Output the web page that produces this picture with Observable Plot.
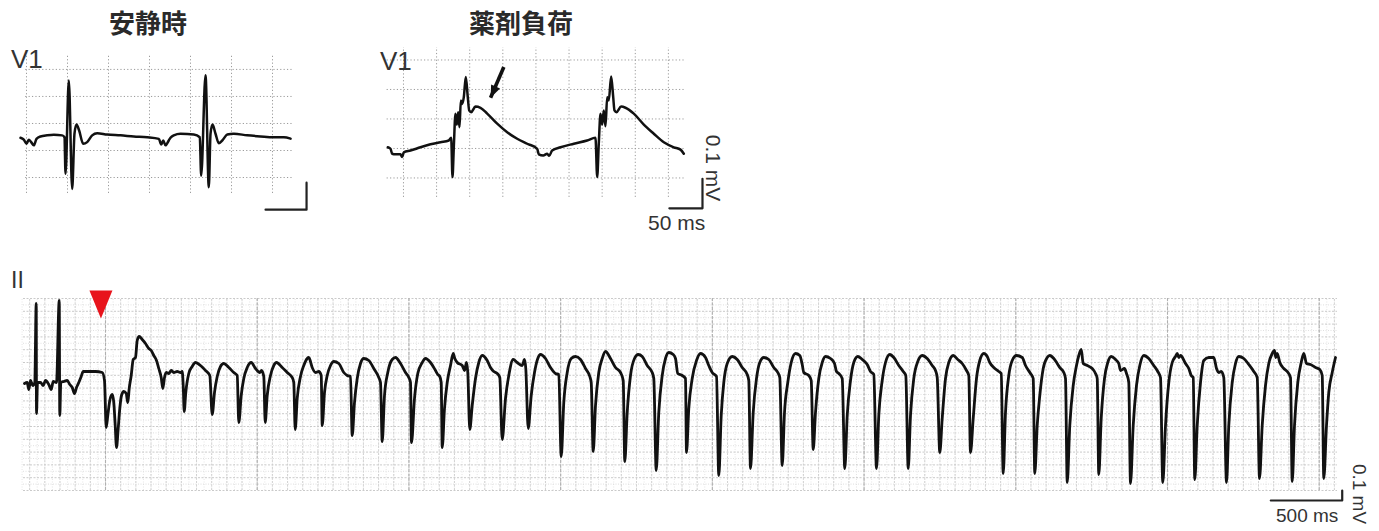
<!DOCTYPE html>
<html><head><meta charset="utf-8">
<script src="https://cdn.jsdelivr.net/npm/d3@7"></script>
<script src="https://cdn.jsdelivr.net/npm/@observablehq/plot@0.6"></script>
<style>
body{margin:0;background:#fff;}
#root{position:relative;width:1379px;height:531px;overflow:hidden;font-family:"Liberation Sans",Arial,sans-serif;color:#333;background:#fff;}
#root svg{position:absolute;overflow:visible;}
.lbl{position:absolute;line-height:1;white-space:nowrap;}
.title{font-family:"Noto Sans CJK JP","Noto Sans CJK SC",sans-serif;font-weight:700;font-size:26px;transform:translateX(-50%);color:#2a2a2a;}
.rot{transform:translate(-50%,-50%) rotate(90deg);}
</style></head><body><div id="root"></div>
<script>
// ---------- data ----------
const titles = ["安静時", "薬剤負荷"];
const leadTop = "V1";
const leadBottom = "II";

// Panel 1 (安静時, V1): [time ms, mV]
const restTrace = [[-7.3,0.047],[-3.3,0.040],[0,0.025],[2.8,0.040],[5.7,0.031],[8.9,0.019],[12.2,0.043],[17.1,0.052],[25.2,0.056],[33.3,0.058],[43.5,0.056],[46.3,0.049],[47.6,-0.086],[51.6,0.259],[55.7,-0.142],[58.5,0.062],[61,0.096],[64.2,0.074],[69.1,0.025],[74,0.031],[80.1,0.056],[86.2,0.064],[98.4,0.059],[114.6,0.056],[130.9,0.052],[147.2,0.049],[161.4,0.043],[164.3,0.022],[166.7,0.037],[169.5,0.019],[173.5,0.037],[175.6,0.047],[179.6,0.056],[187.8,0.062],[204,0.059],[211.3,0.049],[213,-0.093],[218.3,0.278],[222.3,-0.136],[224.4,0.062],[226.8,0.096],[230.5,0.062],[234.5,0.027],[238.7,0.037],[244.8,0.059],[252.8,0.062],[269.1,0.056],[285.4,0.052],[301.6,0.049],[313.8,0.049],[322,0.044]];

// Panel 2 (薬剤負荷, V1): [time ms, mV]
const drugTrace = [[-23.7,0.004],[-19.6,-0.001],[-17.1,-0.018],[-12.1,-0.020],[-4.5,-0.020],[-2,-0.029],[0.5,-0.013],[10.6,-0.007],[25.7,0.004],[40.8,0.014],[55.9,0.021],[68.4,0.027],[72,0.036],[74,-0.097],[76,0.004],[78.5,0.118],[80.5,0.081],[82.6,0.123],[84.6,0.072],[86.6,0.163],[88.6,0.151],[91.1,0.174],[94.1,0.242],[97.1,0.174],[99.2,0.129],[102.2,0.123],[108.7,0.142],[116.3,0.138],[126.4,0.118],[141.5,0.084],[156.6,0.055],[171.7,0.033],[186.8,0.016],[201.9,-0.001],[204.3,-0.020],[211,-0.024],[217,-0.018],[220,-0.025],[224.5,-0.007],[237.1,0.004],[257.2,0.016],[277.3,0.027],[289.9,0.036],[292.5,-0.097],[294.9,0.016],[297.5,0.118],[300,0.081],[302.5,0.129],[305,0.075],[307.6,0.174],[310,0.163],[313.6,0.244],[316.7,0.174],[318.6,0.129],[321.6,0.123],[328.7,0.142],[335.2,0.138],[347.8,0.118],[362.9,0.081],[378,0.050],[393.1,0.021],[408.2,0.004],[418.3,-0.004],[423.3,-0.018]];
const drugArrow = [{x1:151.5, y1:0.276, x2:131.5, y2:0.172}];

// Panel 3 (II, long strip): [time ms, mV]
const leadIITrace = [[28,-0.01],[47,0],[58,-0.07],[70,0.02],[86,-0.03],[100,0],[110,0.79],[112,-0.31],[119,0],[140,0],[159,-0.03],[175,0.02],[198,-0.02],[215,-0.07],[229,0.01],[252,0],[271,0.82],[275,-0.33],[282,0],[303,0.01],[327,0.02],[345,-0.02],[362,-0.05],[378,-0.11],[392,-0.05],[408,0],[425,0.06],[439,0.11],[478,0.11],[525,0.11],[572,0.10],[588,0.02],[600,-0.45],[611,-0.33],[625,-0.18],[642,-0.12],[653,-0.20],[663,-0.43],[672,-0.65],[684,-0.46],[695,-0.26],[707,-0.13],[723,-0.09],[740,-0.11],[751,-0.20],[761,-0.06],[775,0.07],[789,0.23],[805,0.25],[817,0.42],[831,0.46],[852,0.43],[875,0.39],[898,0.34],[915,0.32],[933,0.27],[952,0.22],[968,0.14],[985,0.05],[996,-0.06],[1008,0.05],[1020,0.10],[1038,0.09],[1055,0.12],[1073,0.10],[1097,0.11],[1120,0.10],[1132,0.11],[1139,-0.03],[1146,-0.29],[1157,-0.10],[1178,0.09],[1202,0.16],[1225,0.20],[1260,0.17],[1295,0.12],[1325,0.07],[1342,-0.32],[1358,-0.10],[1377,0.06],[1400,0.16],[1423,0.19],[1458,0.15],[1493,0.10],[1517,0.07],[1528,-0.40],[1545,-0.13],[1563,0.04],[1587,0.15],[1615,0.20],[1645,0.14],[1675,0.10],[1687,0.12],[1703,0.06],[1713,-0.40],[1727,-0.13],[1750,0.07],[1773,0.17],[1792,0.20],[1832,0.15],[1867,0.10],[1902,0.05],[1913,0],[1923,-0.47],[1937,-0.16],[1960,0.06],[1983,0.17],[2007,0.24],[2018,0.25],[2042,0.15],[2065,0.10],[2088,0.11],[2105,0.07],[2112,-0.43],[2128,-0.10],[2147,0.07],[2170,0.17],[2193,0.21],[2228,0.19],[2263,0.10],[2287,0.07],[2310,0.06],[2322,-0.53],[2338,-0.20],[2357,0.04],[2380,0.19],[2403,0.24],[2438,0.22],[2473,0.14],[2508,0.05],[2520,0],[2532,-0.59],[2548,-0.13],[2571,0.10],[2602,0.23],[2625,0.25],[2660,0.19],[2695,0.10],[2718,0.05],[2730,0],[2737,-0.60],[2758,-0.16],[2781,0.09],[2812,0.20],[2835,0.24],[2870,0.20],[2905,0.12],[2921,0.08],[2935,0.06],[2945,0],[2952,-0.65],[2968,-0.26],[2987,0],[3010,0.17],[3029,0.29],[3040,0.24],[3057,0.20],[3092,0.17],[3108,0.12],[3122,0.20],[3131,0.10],[3145,-0.47],[3162,-0.23],[3185,0.04],[3208,0.20],[3232,0.27],[3267,0.22],[3290,0.15],[3313,0.11],[3337,0.09],[3355,0.05],[3372,-0.57],[3395,-0.16],[3418,0.07],[3449,0.23],[3477,0.20],[3512,0.17],[3528,0.23],[3537,0.14],[3554,-0.46],[3575,-0.13],[3598,0.10],[3621,0.24],[3640,0.28],[3675,0.24],[3710,0.15],[3745,0.09],[3768,0.08],[3785,-0.74],[3803,-0.20],[3827,0.10],[3855,0.24],[3885,0.26],[3920,0.23],[3955,0.14],[3985,0.06],[3995,0],[4009,-0.69],[4025,-0.23],[4048,0.10],[4072,0.24],[4095,0.31],[4130,0.24],[4165,0.15],[4200,0.10],[4219,0.02],[4230,-0.79],[4247,-0.30],[4270,0.07],[4298,0.24],[4324,0.28],[4352,0.26],[4387,0.17],[4422,0.10],[4433,0.04],[4450,-0.88],[4468,-0.30],[4492,0.07],[4515,0.24],[4538,0.30],[4569,0.28],[4585,0.24],[4601,0.09],[4632,0.07],[4655,0.04],[4662,-0.70],[4678,-0.26],[4702,0.04],[4732,0.22],[4760,0.29],[4795,0.25],[4818,0.17],[4842,0.10],[4872,0.06],[4888,-0.93],[4905,-0.33],[4923,0],[4947,0.19],[4982,0.26],[5017,0.23],[5052,0.15],[5087,0.08],[5098,0.02],[5110,-0.86],[5129,-0.30],[5152,0.04],[5175,0.20],[5203,0.25],[5238,0.23],[5273,0.15],[5301,0.10],[5315,0.05],[5332,-0.83],[5348,-0.30],[5371,0],[5395,0.20],[5425,0.29],[5455,0.27],[5472,0.18],[5483,0.10],[5518,0.07],[5535,0.02],[5549,-0.67],[5565,-0.30],[5588,0.04],[5612,0.20],[5635,0.26],[5670,0.24],[5698,0.19],[5712,0.11],[5728,0.09],[5752,0.04],[5770,-0.86],[5787,-0.33],[5810,0.02],[5833,0.20],[5861,0.26],[5892,0.23],[5927,0.18],[5950,0.11],[5973,0.08],[5992,-0.86],[6008,-0.33],[6032,0.02],[6055,0.20],[6085,0.28],[6113,0.25],[6148,0.17],[6179,0.11],[6197,0.07],[6214,-0.86],[6230,-0.33],[6253,0.04],[6281,0.21],[6312,0.27],[6347,0.24],[6382,0.17],[6405,0.12],[6417,0.05],[6435,-0.70],[6452,-0.36],[6475,0.04],[6498,0.20],[6529,0.27],[6561,0.23],[6592,0.19],[6622,0.12],[6638,0.07],[6650,-0.70],[6669,-0.36],[6692,0.04],[6715,0.22],[6743,0.29],[6767,0.26],[6785,0.20],[6813,0.15],[6848,0.11],[6865,0.09],[6879,-0.91],[6895,-0.30],[6918,0.07],[6942,0.22],[6972,0.27],[7012,0.25],[7035,0.17],[7070,0.09],[7089,0.04],[7100,-0.91],[7117,-0.43],[7135,-0.13],[7159,0.14],[7187,0.25],[7205,0.27],[7233,0.24],[7257,0.19],[7275,0.15],[7303,0.10],[7315,0.04],[7327,-1.00],[7345,-0.43],[7369,-0.03],[7392,0.17],[7408,0.27],[7425,0.33],[7439,0.19],[7467,0.17],[7502,0.14],[7525,0.09],[7537,0.04],[7548,-0.92],[7565,-0.36],[7588,0.04],[7611,0.20],[7635,0.26],[7665,0.23],[7688,0.19],[7700,0.12],[7728,0.14],[7742,0.09],[7758,0],[7770,-1.01],[7789,-0.43],[7812,-0.03],[7835,0.17],[7863,0.27],[7898,0.24],[7933,0.17],[7961,0.11],[7980,0.05],[7996,-1.00],[8015,-0.43],[8038,0],[8062,0.20],[8085,0.26],[8097,0.29],[8108,0.25],[8120,0.27],[8155,0.19],[8178,0.14],[8195,0.07],[8209,0.05],[8220,-0.97],[8237,-0.43],[8260,0],[8283,0.22],[8318,0.25],[8353,0.25],[8372,0.14],[8388,0.10],[8405,0.11],[8423,0.05],[8442,-1.00],[8458,-0.43],[8482,0],[8505,0.19],[8528,0.26],[8563,0.24],[8598,0.18],[8633,0.11],[8657,0.05],[8673,-0.96],[8692,-0.43],[8715,-0.03],[8738,0.19],[8762,0.29],[8778,0.32],[8787,0.25],[8797,0.29],[8815,0.20],[8843,0.14],[8867,0.11],[8890,0.05],[8902,-0.99],[8918,-0.43],[8941,0],[8965,0.20],[8983,0.29],[9002,0.19],[9030,0.18],[9065,0.15],[9095,0.13],[9112,0.07],[9123,-0.96],[9142,-0.43],[9158,-0.10],[9182,0.10],[9205,0.25]];
const onsetMarker = [{t:563, v:0.78}];

// grid (ECG paper) and scale bars
const restGridTimes = [0,50,100,150,200,250,300];
const restGridVolts = [-0.1,0,0.1,0.2,0.3];
const drugGridTimes = [0,50,100,150,200,250,300,350,400];
const drugGridVolts = [-0.1,0,0.1,0.2,0.3];
const stripMajorTimes = [595,1657,2719,3781,4843,5905,6967,8029,9091];
const restScaleBar = {t:341.5, v:-0.219, ms:50, mV:0.1};
const drugScaleBar = {t:451.5, v:-0.203, ms:50, mV:0.1};
const stripScaleBar = {t:9252, v:-1.18, ms:500, mV:0.1};
const scaleLabels = {drugMs:"50 ms", drugMv:"0.1 mV", stripMs:"500 ms", stripMv:"0.1 mV"};

// ---------- helpers ----------
const root = document.getElementById("root");
function place(el, left, top){ el.style.left = left+"px"; el.style.top = top+"px"; root.appendChild(el); }
function label(text, left, top, cls, size){
  const d = document.createElement("div"); d.className = "lbl " + (cls||""); d.textContent = text;
  if (size) d.style.fontSize = size+"px"; place(d, left, top); return d;
}
function barPath(b){ return [[b.t - b.ms, b.v],[b.t, b.v],[b.t, b.v + b.mV]]; }
const X = d => d[0], Y = d => d[1];
const traceStyle = {x: X, y: Y, stroke: "#111", strokeWidth: 2.5, strokeLinejoin: "round", strokeLinecap: "round", curve: "monotone-x"};
const dotGrid = {stroke: "#9a9a9a", strokeWidth: 1, strokeDasharray: "1.2,2.2"};
// arrow head symbol with its tip at the anchor point
const headDown = {draw(ctx, size){ const r = Math.sqrt(size/Math.PI);
  ctx.moveTo(-r*0.75, -r*1.9); ctx.lineTo(r*0.75, -r*1.9); ctx.lineTo(0, 0); ctx.closePath(); }};
const triDown = {draw(ctx, size){ const r = Math.sqrt(size/Math.PI), h = r*2.45;
  ctx.moveTo(-r, -h/2); ctx.lineTo(r, -h/2); ctx.lineTo(0, h/2); ctx.closePath(); }};

// ---------- panel 1 ----------
const p1 = Plot.plot({
  width: 330, height: 180, margin: 0,
  x: {domain: [-31.7, 370.7], axis: null},
  y: {domain: [-0.259, 0.407], axis: null},
  marks: [
    Plot.ruleX(restGridTimes, {x: d => d, y1: -0.159, y2: 0.352, ...dotGrid}),
    Plot.ruleY(restGridVolts, {y: d => d, x1: -1, x2: 324, ...dotGrid}),
    Plot.line(restTrace, traceStyle),
    Plot.line(barPath(restScaleBar), {x: X, y: Y, stroke: "#222", strokeWidth: 2.2})
  ]
});
place(p1, 0, 40);

// ---------- panel 2 ----------
const p2 = Plot.plot({
  width: 370, height: 200, margin: 0,
  x: {domain: [-64.9, 493.8], axis: null},
  y: {domain: [-0.312, 0.366], axis: null},
  marks: [
    Plot.ruleX(drugGridTimes, {x: d => d, y1: -0.166, y2: 0.342, ...dotGrid}),
    Plot.ruleY(drugGridVolts, {y: d => d, x1: -24.7, x2: 426, ...dotGrid}),
    Plot.line(drugTrace, traceStyle),
    Plot.link(drugArrow, {x1: "x1", y1: "y1", x2: "x2", y2: "y2", stroke: "#111", strokeWidth: 3.6}),
    Plot.dot(drugArrow, {x: "x2", y: "y2", r: 6.5, symbol: headDown, rotate: 24, fill: "#111", stroke: "none"}),
    Plot.line(barPath(drugScaleBar), {x: X, y: Y, stroke: "#222", strokeWidth: 2.2})
  ]
});
place(p2, 360, 40);

// ---------- panel 3 ----------
const gx0 = 21, gx1 = 9219, gy0 = -1.08, gy1 = 0.84;
const fineX = d3.range(10.9, gx1, 53.1);
const midX = d3.range(64, gx1, 106.2);
const rowsY = d3.range(0, 31).map(i => gy1 - i * 0.064);
const p3 = Plot.plot({
  width: 1379, height: 251, margin: 0,
  x: {domain: [-140, 9513], axis: null},
  y: {domain: [-1.49, 1.02], axis: null},
  marks: [
    Plot.ruleX(fineX, {x: d => d, y1: gy0, y2: gy1, stroke: "#dedede", strokeWidth: 0.8, strokeDasharray: "1,1.5"}),
    Plot.ruleY(rowsY.filter((d,i) => i % 2), {y: d => d, x1: gx0, x2: gx1, stroke: "#d8d8d8", strokeWidth: 0.8, strokeDasharray: "1,1.5"}),
    Plot.ruleY(rowsY.filter((d,i) => !(i % 2)), {y: d => d, x1: gx0, x2: gx1, stroke: "#c4c4c4", strokeWidth: 0.9, strokeDasharray: "2,1.5"}),
    Plot.ruleX(midX, {x: d => d, y1: gy0, y2: gy1, stroke: "#cecece", strokeWidth: 0.9, strokeDasharray: "2,1.5"}),
    Plot.ruleX(stripMajorTimes, {x: d => d, y1: gy0, y2: gy1, stroke: "#b0b0b0", strokeWidth: 1.1, strokeDasharray: "3,1.5"}),
    Plot.line(leadIITrace, {...traceStyle, strokeWidth: 2.8}),
    Plot.dot(onsetMarker, {x: "t", y: "v", r: 11.5, symbol: triDown, fill: "#e8141c", stroke: "none"}),
    Plot.line(barPath(stripScaleBar), {x: X, y: Y, stroke: "#222", strokeWidth: 2.2})
  ]
});
place(p3, 0, 280);

// ---------- text ----------
label(titles[0], 148, 9, "title");
label(titles[1], 521, 9, "title");
label(leadTop, 11, 46, "", 26);
label(leadTop, 380, 48, "", 26);
label(leadBottom, 11, 269, "", 23);
label(scaleLabels.drugMs, 648, 212, "", 21);
label(scaleLabels.drugMv, 713, 168, "rot", 21);
label(scaleLabels.stripMs, 1276, 506, "", 19);
label(scaleLabels.stripMv, 1359, 494, "rot", 19);
</script>
</body></html>
